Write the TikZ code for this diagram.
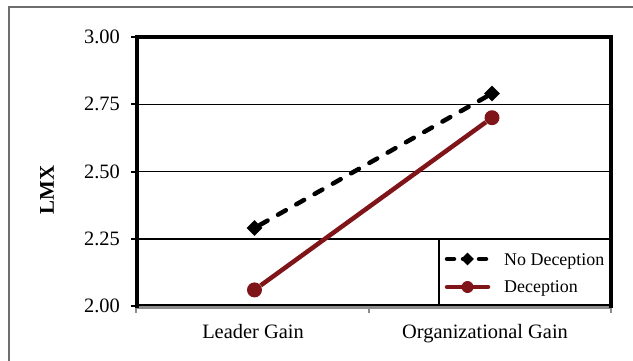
\documentclass[tikz,border=0pt]{standalone}
\usepackage{fontspec}
\setmainfont{Liberation Serif}
\usetikzlibrary{shapes.geometric}
\definecolor{decred}{RGB}{128,21,25}
\definecolor{framegray}{RGB}{110,110,110}
\definecolor{axisgray}{RGB}{140,140,140}
\begin{document}
\begin{tikzpicture}[
    x=1bp, y=1bp,
    grid/.style={black, line width=1.5bp},
    border/.style={black, line width=3.5bp},
    nodec/.style={black, line width=4.5bp, line cap=round, dash pattern=on 9bp off 12bp},
    dec/.style={decred, line width=4.5bp},
    dmark/.style={diamond, fill=black, inner sep=0pt, minimum size=16bp},
    cmark/.style={circle, fill=decred, inner sep=0pt, minimum size=15bp},
    ticklabel/.style={anchor=east, inner sep=0pt, font=\fontsize{20.5}{24}\selectfont},
    catlabel/.style={anchor=base, inner sep=0pt, font=\fontsize{20.5}{24}\selectfont},
    legtext/.style={anchor=base west, inner sep=0pt, font=\fontsize{18}{21}\selectfont}
]
\useasboundingbox (0,0) rectangle (633,360);
\clip (0,0) rectangle (633,360);

% Outer frame
\draw[framegray, line width=1.5bp] (9,-20) rectangle (660,353);

% Grid lines and y ticks
\foreach \y/\lab in {54/2.00, 121.25/2.25, 188.5/2.50, 255.75/2.75, 323/3.00} {
    \draw[black, line width=2bp] (131,\y) -- (137,\y);
    \node[ticklabel] at (120,\y) {\lab};
}
\foreach \y in {121.25, 188.5, 255.75}
    \draw[grid] (137,\y) -- (611,\y);

% Legend box
\draw[grid] (439,54) -- (439,121.25);

% Plot borders
\draw[axisgray, line width=3bp] (136,53) -- (612,53);
\draw[grid] (137,55) -- (611,55);
\foreach \x in {136, 369, 611}
    \draw[axisgray, line width=1.5bp] (\x,53) -- (\x,47);
\draw[border, line cap=rect] (137,54) -- (137,323) -- (611,323) -- (611,54);

% Axis labels
\node[catlabel] (leader) at (253,22) {Leader Gain};
\node[catlabel] (org) at (485,22) {Organizational Gain};
\node[rotate=90, font=\bfseries\fontsize{21}{24}\selectfont] (lmx) at (47,170) {LMX};

% No Deception
\node[dmark] (nd1) at (254.5,132) {};
\node[dmark] (nd2) at (492,266.5) {};
\draw[nodec] (nd1) -- (nd2);

% Deception
\node[cmark] (d1) at (254.5,70.1) {};
\node[cmark] (d2) at (492,242.3) {};
\draw[dec] (d1) -- (d2);

% Legend
\coordinate (la1) at (447,101);
\coordinate (lb1) at (488,101);
\draw[nodec, dash pattern=on 7bp off 9bp] (la1) -- (lb1);
\node[dmark, minimum size=13bp] (lm1) at (467.5,101) {};
\node[legtext] (lt1) at (504,95) {No Deception};
\coordinate (la2) at (447,73);
\coordinate (lb2) at (488,73);
\draw[dec, line cap=round] (la2) -- (lb2);
\node[cmark, minimum size=12bp] (lm2) at (467.5,73) {};
\node[legtext] (lt2) at (504,67.3) {Deception};

\end{tikzpicture}
\end{document}
